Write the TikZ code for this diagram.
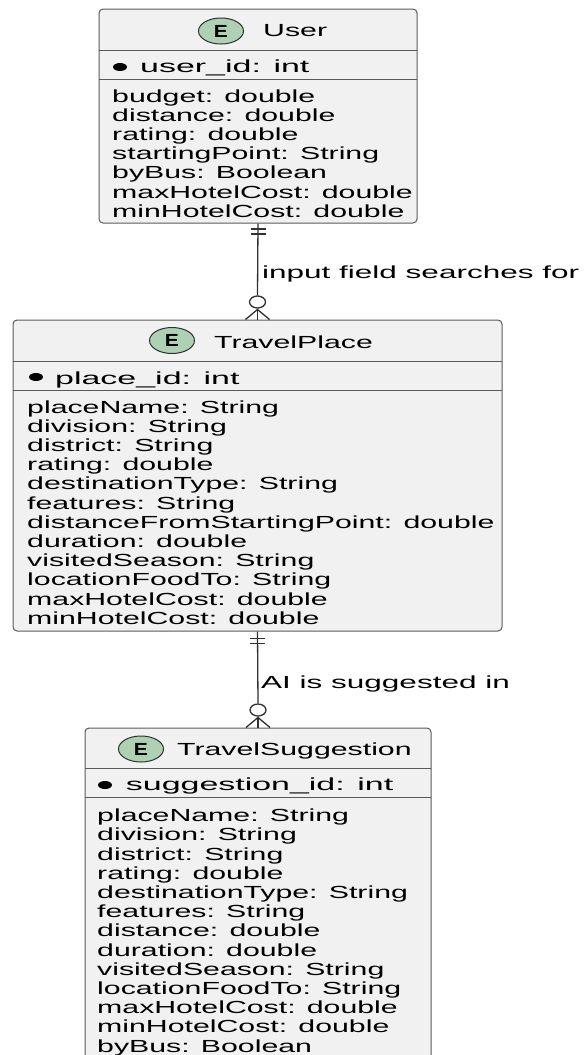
\documentclass[tikz,border=0pt]{standalone}
\usepackage{fontspec}
\setmainfont{Liberation Sans}[FakeStretch=1.73]
\newfontfamily\idfont{Liberation Sans}[FakeStretch=1.94]
\newfontfamily\lblfont{Liberation Sans}[FakeStretch=1.8]
\newfontfamily\spotfont{Liberation Sans}[FakeStretch=1.2]
\usetikzlibrary{calc,shapes.geometric}
\definecolor{boxfill}{HTML}{F1F1F1}
\definecolor{boxline}{HTML}{5A5A5A}
\definecolor{spotfill}{HTML}{ADD1B2}
\definecolor{connline}{HTML}{303030}
\begin{document}
\begin{tikzpicture}[x=1pt,y=-1pt,
  ent/.style={draw=boxline, fill=boxfill, line width=1pt, rounded corners=4pt, inner sep=0pt, rectangle},
  sepline/.style={draw=boxline, line width=1pt},
  txt/.style={anchor=base west, inner sep=0pt, font=\fontsize{17.5}{19.2}\selectfont},
  idtxt/.style={anchor=base west, inner sep=0pt, font=\idfont\fontsize{17.5}{19.2}\selectfont},
  lbl/.style={anchor=base west, inner sep=0pt, font=\lblfont\fontsize{17.5}{19.2}\selectfont},
  spot/.style={ellipse, draw=connline, fill=spotfill, line width=1pt, minimum width=45pt, minimum height=26pt, inner sep=0pt, font=\spotfont\bfseries\fontsize{17.5}{19.2}\selectfont},
  conn/.style={draw=connline, line width=1.3pt},
  zero/.style={ellipse, draw=connline, fill=white, line width=1.3pt, minimum width=16pt, minimum height=12pt, inner sep=0pt}
]
\useasboundingbox (0,0) rectangle (587,1055);

% ---------- User ----------
\node[ent, minimum width=318pt, minimum height=214pt] (user) at (258,116) {};
\draw[sepline] (99,50) -- (417,50);
\draw[sepline] (99,79) -- (417,79);
\node[spot] (uspot) at (221,31) {E};
\node[txt] (uname) at (263,36.7) {User};
\fill[black] (120,67) ellipse [x radius=7, y radius=4];
\node[idtxt] (uid) at (140,72) {user\_id: int};
\foreach \t [count=\i] in {budget: double, distance: double, rating: double, startingPoint: String, byBus: Boolean, maxHotelCost: double, minHotelCost: double}
  \node[txt] (ua\i) at (112,{102+(\i-1)*19.2}) {\t};

% ---------- TravelPlace ----------
\node[ent, minimum width=489pt, minimum height=311pt] (place) at (257.5,475.5) {};
\draw[sepline] (13,361) -- (502,361);
\draw[sepline] (13,390.5) -- (502,390.5);
\node[spot] (pspot) at (172,340.5) {E};
\node[txt] (pname) at (214,348.3) {TravelPlace};
\fill[black] (36,377) ellipse [x radius=7, y radius=4];
\node[idtxt] (pid) at (55,384) {place\_id: int};
\foreach \t [count=\i] in {placeName: String, division: String, district: String, rating: double, destinationType: String, features: String, distanceFromStartingPoint: double, duration: double, visitedSeason: String, locationFoodTo: String, maxHotelCost: double, minHotelCost: double}
  \node[txt] (pa\i) at (27,{413+(\i-1)*19.2}) {\t};

% ---------- TravelSuggestion ----------
\node[ent, minimum width=346pt, minimum height=352pt] (sugg) at (258,904) {};
\draw[sepline] (85,768) -- (431,768);
\draw[sepline] (85,797.5) -- (431,797.5);
\node[spot] (sspot) at (141,749) {E};
\node[txt] (sname) at (177,755.7) {TravelSuggestion};
\fill[black] (105,785) ellipse [x radius=7, y radius=4];
\node[idtxt] (sid) at (125.7,790.7) {suggestion\_id: int};
\foreach \t [count=\i] in {placeName: String, division: String, district: String, rating: double, destinationType: String, features: String, distance: double, duration: double, visitedSeason: String, locationFoodTo: String, maxHotelCost: double, minHotelCost: double, byBus: Boolean}
  \node[txt] (sa\i) at (97,{821.7+(\i-1)*19.2}) {\t};

% ---------- User -> TravelPlace ----------
\node[zero] (z1) at ($(place.north)+(0,-17.5)$) {};
\draw[conn] (user.south) -- (z1.north);
\draw[conn] ($(user.south)+(-7.5,5.5)$) -- ++(15,0);
\draw[conn] ($(user.south)+(-7.5,10.5)$) -- ++(15,0);
\draw[conn] (z1.south) -- (place.north);
\draw[conn] ($(place.north)+(-12,0)$) -- ($(place.north)+(0,-10)$) -- ($(place.north)+(12,0)$);
\node[lbl] (l1) at (262,278) {input field searches for};

% ---------- TravelPlace -> TravelSuggestion ----------
\node[zero] (z2) at ($(sugg.north)+(0,-17.5)$) {};
\draw[conn] (place.south) -- (z2.north);
\draw[conn] ($(place.south)+(-7.5,7)$) -- ++(15,0);
\draw[conn] ($(place.south)+(-7.5,12)$) -- ++(15,0);
\draw[conn] (z2.south) -- (sugg.north);
\draw[conn] ($(sugg.north)+(-12,0)$) -- ($(sugg.north)+(0,-10)$) -- ($(sugg.north)+(12,0)$);
\node[lbl] (l2) at (261,688) {AI is suggested in};
\end{tikzpicture}
\end{document}
